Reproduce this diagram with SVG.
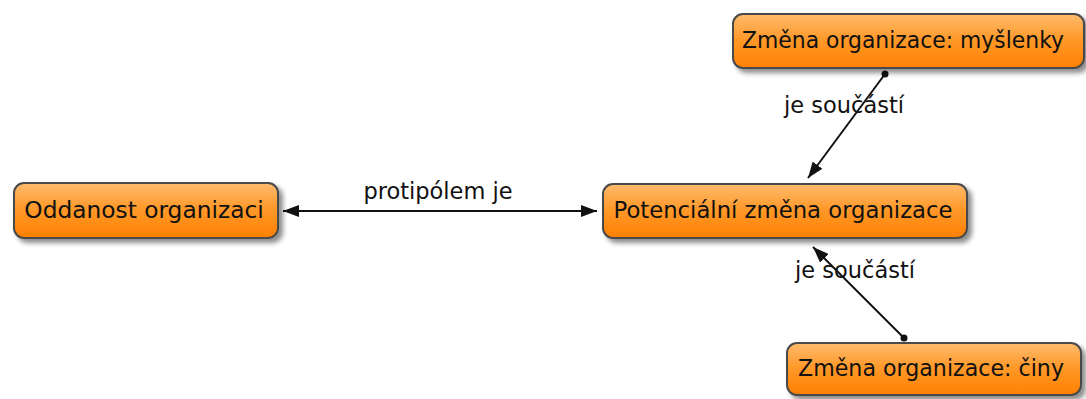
<svg xmlns="http://www.w3.org/2000/svg" width="1086" height="399" viewBox="0 0 1086 399">
  <style>
    .node rect { fill: url(#orange); stroke: #4a4a4a; stroke-width: 2; filter: url(#shadow); }
    .node text { font-family: "DejaVu Sans", sans-serif; font-size: 23.3px; fill: #111; text-anchor: middle; }
    .link { stroke: #111; stroke-width: 2; fill: none; }
    .label { font-family: "DejaVu Sans", sans-serif; font-size: 22.5px; fill: #111; text-anchor: middle; }
  </style>
  <defs>
    <linearGradient id="orange" x1="0" y1="0" x2="0" y2="1">
      <stop offset="0" stop-color="#ffbb6e"/>
      <stop offset="0.45" stop-color="#ff9a2c"/>
      <stop offset="1" stop-color="#ff8000"/>
    </linearGradient>
    <filter id="shadow" x="-10%" y="-20%" width="120%" height="150%">
      <feDropShadow dx="4" dy="4" stdDeviation="2.5" flood-color="#000" flood-opacity="0.45"/>
    </filter>
    <marker id="arrow" viewBox="0 0 16 12" refX="16" refY="6" markerWidth="16" markerHeight="12" markerUnits="userSpaceOnUse" orient="auto-start-reverse">
      <path d="M0,0 L16,6 L0,12 z" fill="#111"/>
    </marker>
    <marker id="dot" viewBox="0 0 8 8" refX="4" refY="4" markerWidth="8" markerHeight="8" markerUnits="userSpaceOnUse">
      <circle cx="4" cy="4" r="3.5" fill="#111"/>
    </marker>
  </defs>

  <g id="connectors">
    <line class="link" x1="283" y1="211" x2="597" y2="211" marker-start="url(#arrow)" marker-end="url(#arrow)"/>
    <text class="label" x="438" y="199">protipólem je</text>
    <line class="link" x1="885" y1="74" x2="808" y2="178" marker-start="url(#dot)" marker-end="url(#arrow)"/>
    <text class="label" x="844" y="113">je součástí</text>
    <line class="link" x1="904" y1="338" x2="813" y2="247" marker-start="url(#dot)" marker-end="url(#arrow)"/>
    <text class="label" x="855" y="278">je součástí</text>
  </g>

  <g id="node-oddanost" class="node">
    <rect x="14" y="183" width="264" height="55" rx="10"/>
    <text x="144" y="218">Oddanost organizaci</text>
  </g>
  <g id="node-potencialni" class="node">
    <rect x="603" y="184" width="364" height="54" rx="10"/>
    <text x="783" y="218" textLength="339" lengthAdjust="spacingAndGlyphs">Potenciální změna organizace</text>
  </g>
  <g id="node-myslenky" class="node">
    <rect x="733" y="14" width="351" height="54" rx="10"/>
    <text x="903" y="48" textLength="322" lengthAdjust="spacingAndGlyphs">Změna organizace: myšlenky</text>
  </g>
  <g id="node-ciny" class="node">
    <rect x="787" y="343" width="294" height="52" rx="10"/>
    <text x="931" y="376" textLength="266" lengthAdjust="spacingAndGlyphs">Změna organizace: činy</text>
  </g>
</svg>
